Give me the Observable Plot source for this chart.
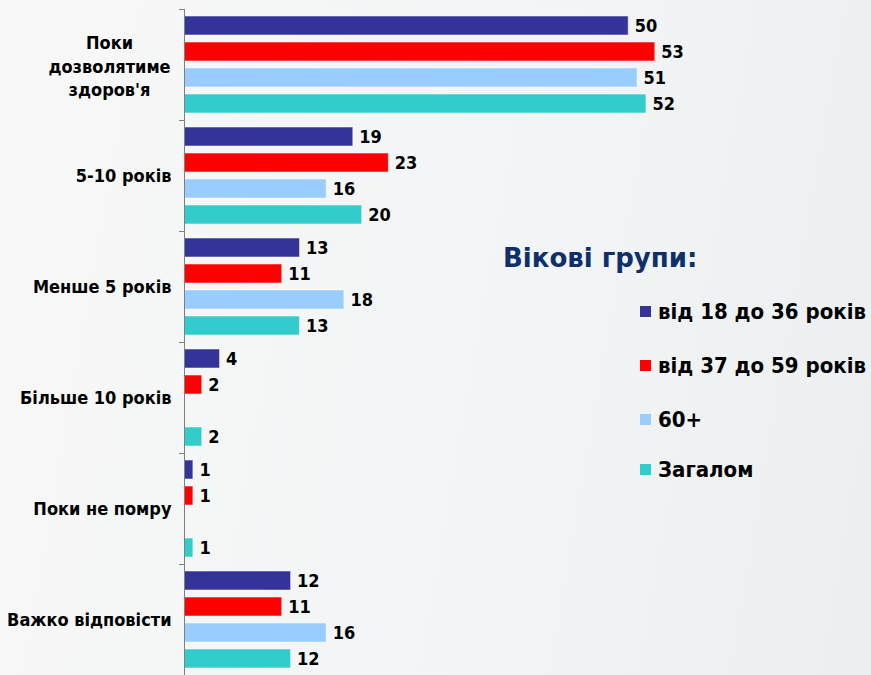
<!DOCTYPE html>
<html>
<head>
<meta charset="utf-8">
<script src="https://cdn.jsdelivr.net/npm/d3@7"></script>
<script src="https://cdn.jsdelivr.net/npm/@observablehq/plot@0.6"></script>
<style>
  html, body { margin: 0; padding: 0; }
  body { width: 871px; height: 675px; overflow: hidden;
         background: linear-gradient(100deg, #f8f8f8 0%, #f2f4f5 60%, #eceff1 100%); }
  #wrap { position: relative; width: 871px; height: 675px; font-family: "DejaVu Sans", sans-serif; }
  #legend { position: absolute; left: 503px; top: 243px; }
  #legend .title { font-family: "DejaVu Sans", sans-serif; font-size: 26px; font-weight: bold; color: #0f2f6b; white-space: nowrap; }
  #legend .item { position: absolute; left: 137px; white-space: nowrap; font-family: "DejaVu Sans Condensed", "DejaVu Sans", sans-serif; font-size: 22px; font-weight: bold; color: #000; display: flex; align-items: center; }
  #legend .sw { width: 11px; height: 11px; margin-right: 7px; display: inline-block; }
</style>
</head>
<body>
<div id="wrap"></div>
<script>
const categories = ["Поки\nдозволятиме\nздоров'я", "5-10 років", "Менше 5 років", "Більше 10 років", "Поки не помру", "Важко відповісти"];
const seriesNames = ["від 18 до 36 років", "від 37 до 59 років", "60+", "Загалом"];
const seriesColors = ["#333399", "#ff0000", "#99ccff", "#33cccc"];
const age18to36 = [50, 19, 13, 4, 1, 12];
const age37to59 = [53, 23, 11, 2, 1, 11];
const age60plus = [51, 16, 18, null, null, 16];
const overall = [52, 20, 13, 2, 1, 12];

const seriesValues = [age18to36, age37to59, age60plus, overall];
const data = [];
categories.forEach((c, i) => {
  seriesNames.forEach((s, j) => {
    const v = seriesValues[j][i];
    if (v != null) data.push({category: c, series: s, value: v});
  });
});

const W = 871, H = 675, ML = 184, MR = 154;
const innerW = W - ML - MR;
const labelFont = "DejaVu Sans Condensed, DejaVu Sans, sans-serif";

const plot = Plot.plot({
  width: W, height: H,
  marginLeft: ML, marginRight: MR, marginTop: 9, marginBottom: 0,
  style: {background: "transparent", fontFamily: labelFont, overflow: "visible"},
  x: {domain: [0, 60], axis: null},
  y: {domain: seriesNames, paddingInner: 0.27, paddingOuter: 0.27, axis: null, round: false},
  fy: {domain: categories, padding: 0, axis: null, round: false},
  color: {domain: seriesNames, range: seriesColors},
  marks: [
    Plot.barX(data, {fy: "category", y: "series", x: "value", fill: "series", stroke: "#ffffff", strokeOpacity: 0.5, strokeWidth: 1}),
    Plot.text(data, {fy: "category", y: "series", x: "value", text: d => String(d.value), textAnchor: "start", dx: 6, fontSize: 18, fontWeight: "bold", fill: "#000"}),
    Plot.ruleX([0], {stroke: "#7f7f7f", strokeWidth: 1}),
    Plot.frame({anchor: "top", insetLeft: -5, insetRight: innerW, stroke: "#7f7f7f"}),
    Plot.text(categories.slice(0, 1), {fy: d => d, text: d => d, frameAnchor: "left", textAnchor: "middle", dx: -75, fontSize: 18, fontWeight: "bold", lineHeight: 1.3, fill: "#000"}),
    Plot.text(categories.slice(1), {fy: d => d, text: d => d, frameAnchor: "left", textAnchor: "end", dx: -13, fontSize: 18, fontWeight: "bold", fill: "#000"})
  ]
});

const wrap = document.getElementById("wrap");
wrap.appendChild(plot);

const legend = document.createElement("div");
legend.id = "legend";
const title = document.createElement("div");
title.className = "title";
title.textContent = "Вікові групи:";
legend.appendChild(title);
const itemTops = [56, 110, 164, 214];
seriesNames.forEach((s, j) => {
  const it = document.createElement("div");
  it.className = "item";
  it.style.top = itemTops[j] + "px";
  const sw = document.createElement("span");
  sw.className = "sw";
  sw.style.background = seriesColors[j];
  it.appendChild(sw);
  it.appendChild(document.createTextNode(s));
  legend.appendChild(it);
});
wrap.appendChild(legend);
</script>
</body>
</html>
